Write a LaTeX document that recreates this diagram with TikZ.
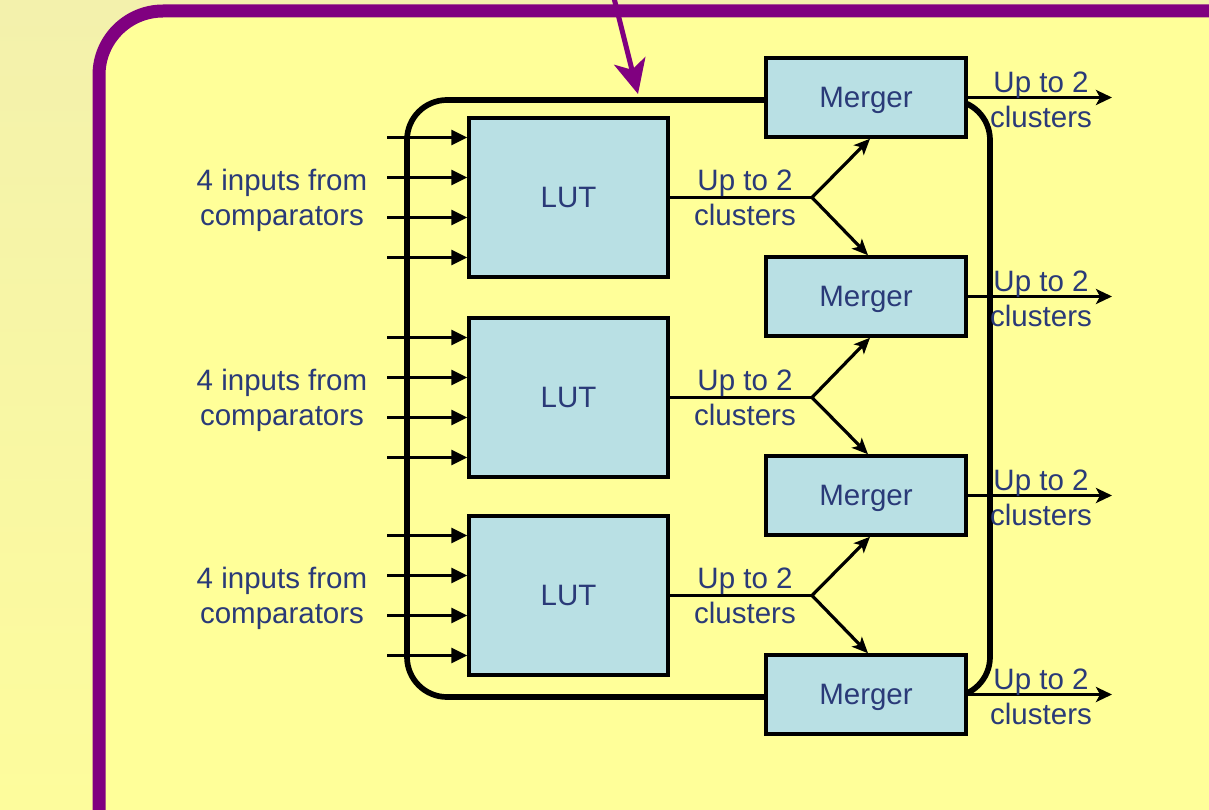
\documentclass[tikz,border=0pt]{standalone}
\usepackage{fontspec}
\setmainfont{Liberation Sans}
\usetikzlibrary{arrows.meta,calc}
\definecolor{bgyellow}{RGB}{255,255,153}
\definecolor{bgtop}{RGB}{243,241,172}
\definecolor{bgbot}{RGB}{253,252,156}
\definecolor{boxblue}{RGB}{185,224,228}
\definecolor{txtblue}{RGB}{42,58,120}
\definecolor{purp}{RGB}{128,0,128}
\begin{document}
\begin{tikzpicture}[x=1pt,y=-1pt,
  lut/.style={draw=black,line width=3.5,fill=boxblue,minimum width=199,minimum height=159,inner sep=0,text depth=0pt,text=txtblue,font=\fontsize{29.5}{35}\selectfont},
  mrg/.style={draw=black,line width=3.5,fill=boxblue,minimum width=200,minimum height=79,inner sep=0,text depth=0pt,text=txtblue,font=\fontsize{29.5}{35}\selectfont},
  lbl/.style={text=txtblue,align=center,inner sep=0,font=\fontsize{29.5}{35}\selectfont},
  inarrow/.style={line width=3.2,-{Triangle[length=16,width=15]}},
  midline/.style={line width=3.2},
  midarrow/.style={line width=3.2,-{Stealth[length=16,width=14,inset=4]}},
  outarrow/.style={line width=3.2,-{Stealth[length=16,width=15,inset=4]}},
  bus/.style={line width=5.7,rounded corners=40},
  frame/.style={draw=purp,line width=13,fill=bgyellow,rounded corners=64}
]
\useasboundingbox (0,0) rectangle (1209,810);
\shade[top color=bgtop,bottom color=bgbot] (0,0) rectangle (1209,810);
\path[frame] (99,11) rectangle (1320,880);
% purple arrow
\coordinate (ps) at (613,-6);
\coordinate (pe) at (638,94);
\draw[purp,line width=5,-{Stealth[length=34,width=32,inset=9]}] (ps) -- (pe);
% bus
\draw[bus] (407,100) rectangle (990,697);
% boxes
\foreach \i/\y in {1/197.5,2/397.5,3/595.5}
  \node[lut] (L\i) at (568.5,\y) {LUT};
\foreach \i/\y in {1/97.5,2/296.5,3/495.5,4/694.5}
  \node[mrg] (M\i) at (866,\y) {Merger};
% inputs, labels and forks
\foreach \i/\j/\y in {1/2/197.5,2/3/397.5,3/4/595.5}{
  \foreach \k/\o in {a/-60,b/-20,c/20,d/60}{
    \coordinate (in\i\k) at (387,\y+\o);
    \draw[inarrow] (in\i\k) -- (in\i\k -| L\i.west);
  }
  \node[lbl] (il\i) at (282,\y+3) {4 inputs from\\comparators};
  \coordinate (F\i) at (812,\y);
  \draw[midline] (L\i.east) -- (F\i);
  \draw[midarrow] (F\i) -- ([xshift=4]M\i.south);
  \draw[midarrow] (F\i) -- ([xshift=2]M\j.north);
  \node[lbl] (ml\i) at (745,\y) {Up to 2\\clusters};
}
% outputs
\foreach \i/\y in {1/97.5,2/296.5,3/495.5,4/694.5}{
  \coordinate (O\i) at (1112,\y);
  \draw[outarrow] (M\i.east) -- (O\i);
  \node[lbl] (ol\i) at (1041,\y+2) {Up to 2\\clusters};
}
\end{tikzpicture}
\end{document}
